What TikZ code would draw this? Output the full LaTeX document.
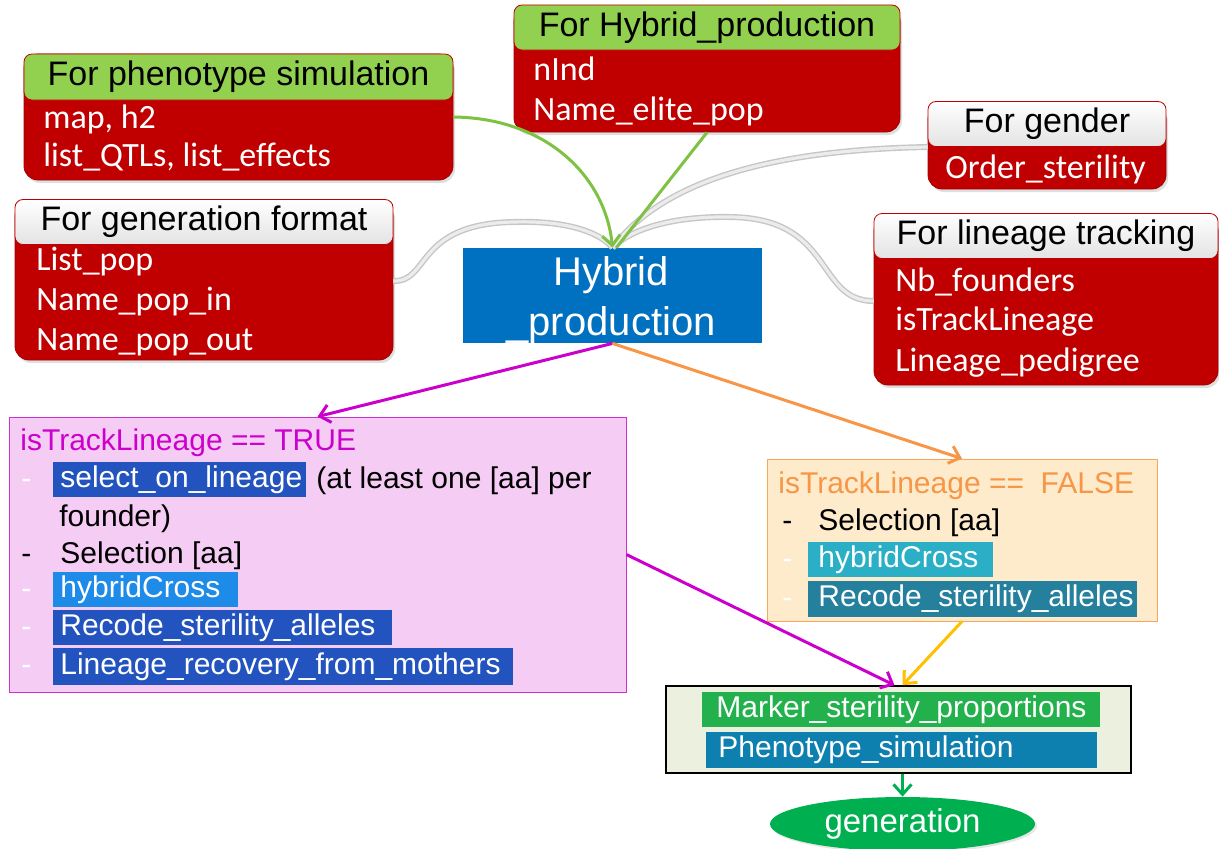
\documentclass[tikz,border=0pt]{standalone}
\usepackage{fontspec}
\setmainfont{Liberation Sans}
\newfontfamily\calfont{Carlito}
\usetikzlibrary{arrows.meta,shadows,shapes.geometric}

\definecolor{boxred}{HTML}{C00000}
\definecolor{darkred}{HTML}{A00000}
\definecolor{headgreen}{HTML}{92D050}
\definecolor{hybblue}{HTML}{0070C0}
\definecolor{pinkfill}{HTML}{F4CCF4}
\definecolor{pinkline}{HTML}{CC33CC}
\definecolor{magline}{HTML}{CC00CC}
\definecolor{orfill}{HTML}{FDEBCC}
\definecolor{orline}{HTML}{F9A55A}
\definecolor{ortext}{HTML}{F79646}
\definecolor{yelline}{HTML}{FFC000}
\definecolor{hlblue}{HTML}{2353BE}
\definecolor{hllight}{HTML}{1E8BE8}
\definecolor{hlcyan}{HTML}{2AAFC6}
\definecolor{hlteal}{HTML}{24809C}
\definecolor{hlgreen}{HTML}{22B14C}
\definecolor{hlpheno}{HTML}{0E80B0}
\definecolor{gfill}{HTML}{EBF1DE}
\definecolor{genfill}{HTML}{00B050}
\definecolor{topgreen}{HTML}{7DC242}

\newcommand\fhead{\fontsize{17}{20}\selectfont}
\newcommand\fitem{\calfont\fontsize{17}{20}\selectfont}
\newcommand\fbody{\fontsize{15}{18}\selectfont}

\tikzset{
  redbox/.style={draw=darkred, fill=boxred, rounded corners=7pt,
    drop shadow={opacity=0.25, shadow xshift=1pt, shadow yshift=-1.5pt}},
  greenhead/.style={draw=boxred, fill=headgreen, rounded corners=4pt, font=\fhead},
  grayhead/.style={draw=boxred, top color=white, bottom color=gray!22, rounded corners=4pt, font=\fhead},
  itemtxt/.style={anchor=west, text=white, inner sep=0pt, font=\fitem, text height=11.5pt, text depth=3.5pt},
  bodytxt/.style={anchor=west, inner sep=0pt, font=\fbody, text height=11pt, text depth=3pt},
  dashtxt/.style={bodytxt, text=white},
  hlbox/.style={anchor=west, text=white, inner xsep=3.5pt, inner ysep=0pt,
    minimum height=17.5pt, align=left, font=\fbody},
  graylink/.style={draw=gray!45, double=gray!15, double distance=1.6pt, line width=0.7pt},
  arrowline/.style={line width=1.5pt, ->},
  >={Straight Barb[length=5pt,width=9pt]}
}

\begin{document}
\begin{tikzpicture}[x=0.5pt,y=-0.5pt]

\useasboundingbox (0,0) rectangle (1219,848);

% parameter boxes
\node[redbox, minimum width=214.5pt, minimum height=63pt] (b1) at (238.5,117) {};
\node[greenhead, minimum width=214.5pt, minimum height=23pt] (h1) at (238.5,77) {For phenotype simulation};
\node[itemtxt] (map) at (43,120) {map, h2};
\node[itemtxt] (qtl) at (43,158) {list\_QTLs, list\_effects};

\node[redbox, minimum width=189pt, minimum height=79pt] (b2) at (204,281) {};
\node[grayhead, minimum width=189pt, minimum height=20pt] (h2) at (204,222) {For generation format};
\node[itemtxt] (lpop) at (36,262) {List\_pop};
\node[itemtxt] (pin) at (36,302) {Name\_pop\_in};
\node[itemtxt] (pout) at (36,342) {Name\_pop\_out};

\node[redbox, minimum width=193pt, minimum height=62.5pt] (b3) at (707,69.5) {};
\node[greenhead, minimum width=193pt, minimum height=20.5pt] (h3) at (707,27.5) {For Hybrid\_production};
\node[itemtxt] (nind) at (533,72) {nInd};
\node[itemtxt] (elite) at (533,112) {Name\_elite\_pop};

\node[redbox, minimum width=119pt, minimum height=42pt] (b4) at (1047,147) {};
\node[grayhead, minimum width=119pt, minimum height=19pt] (h4) at (1047,124) {For gender};
\node[itemtxt] (order) at (945,170) {Order\_sterility};

\node[redbox, minimum width=172pt, minimum height=84pt] (b5) at (1046,301) {};
\node[grayhead, minimum width=172pt, minimum height=19pt] (h5) at (1046,236) {For lineage tracking};
\node[itemtxt] (nbf) at (895,283) {Nb\_founders};
\node[itemtxt] (istrack) at (895,322) {isTrackLineage};
\node[itemtxt] (pedig) at (895,363) {Lineage\_pedigree};

% central function
\node[fill=hybblue, minimum width=149.5pt, minimum height=47.5pt] (hyb) at (612.5,295.5) {};
\node[inner sep=0pt, text=white, font=\fontsize{20}{25}\selectfont, align=center] (hybtxt) at (611,300) {Hybrid\\\_production};

% TRUE branch
\node[draw=pinkline, fill=pinkfill, minimum width=308.5pt, minimum height=137.5pt] (tbox) at (317.5,554.5) {};
\node[bodytxt, text=magline] (ttitle) at (20,442) {isTrackLineage == TRUE};
\node[dashtxt] (td1) at (21,480) {-};
\node[hlbox, fill=hlblue, text width=119.5pt] (tlin1) at (53,479.5) {select\_on\_lineage};
\node[bodytxt] (atleast) at (316,480) {(at least one [aa] per};
\node[bodytxt] (founder) at (59,518) {founder)};
\node[bodytxt] (td2) at (21,555) {-};
\node[bodytxt] (tsel) at (60,555) {Selection [aa]};
\node[dashtxt] (td3) at (21,590) {-};
\node[hlbox, fill=hllight, text width=85.5pt] (tcross) at (53,589.5) {hybridCross};
\node[dashtxt] (td4) at (21,628) {-};
\node[hlbox, fill=hlblue, text width=162.5pt] (trec) at (53,627.5) {Recode\_sterility\_alleles};
\node[dashtxt] (td5) at (21,666) {-};
\node[hlbox, fill=hlblue, text width=223pt, minimum height=18.5pt] (tlin2) at (53,666.5) {Lineage\_recovery\_from\_mothers};

% FALSE branch
\node[draw=orline, fill=orfill, minimum width=195pt, minimum height=81pt] (fbox) at (962,540) {};
\node[bodytxt, text=ortext] (ftitle) at (778,485) {isTrackLineage == \ FALSE};
\node[bodytxt] (fd1) at (782,522) {-};
\node[bodytxt] (fsel) at (818,522) {Selection [aa]};
\node[dashtxt] (fd2) at (782,560) {-};
\node[hlbox, fill=hlcyan, inner xsep=5pt, text width=82.5pt] (fcross) at (808,559.5) {hybridCross};
\node[dashtxt] (fd3) at (782,599) {-};
\node[hlbox, fill=hlteal, inner xsep=5pt, text width=154.5pt, minimum height=18pt] (frec) at (808,599) {Recode\_sterility\_alleles};

% common end
\node[draw=black, line width=0.8pt, fill=gfill, minimum width=232.5pt, minimum height=43.5pt] (gbox) at (898.5,729.5) {};
\node[hlbox, fill=hlgreen, inner xsep=7pt, text width=185pt] (marker) at (702,709.5) {Marker\_sterility\_proportions};
\node[hlbox, fill=hlpheno, inner xsep=6pt, text width=183.5pt, minimum height=18pt] (pheno) at (706,750) {Phenotype\_simulation};
\node[ellipse, fill=genfill, minimum width=132.5pt, minimum height=27pt, inner sep=0pt, text=white,
  font=\fontsize{16.5}{20}\selectfont, drop shadow={opacity=0.2, shadow xshift=1pt, shadow yshift=-1pt}] (gen) at (902.5,824) {generation};

% links into the function
\draw[graylink] (b2.east) .. controls (430,282) and (415,224) .. (513,222) .. controls (575,220) and (603,236) .. (hyb.north);
\draw[graylink] (b5.west) .. controls (815,301) and (835,218) .. (730,217) .. controls (670,216) and (630,230) .. (hyb.north);
\draw[graylink] (b4.west) .. controls (760,150) and (660,185) .. (hyb.north);
\draw[topgreen, line width=1.5pt] (b3.south) -- ([xshift=2pt]hyb.north);
\draw[topgreen, arrowline] (b1.east) .. controls (545,118) and (605,175) .. (hyb.north);

% branches
\draw[magline, arrowline] (hyb.south) -- (tbox.north);
\draw[ortext, arrowline] (hyb.south) -- (fbox.north);
\draw[magline, arrowline] (tbox.east) -- ([xshift=-2pt]gbox.north);
\draw[yelline, arrowline] (fbox.south) -- ([xshift=2pt]gbox.north);
\draw[genfill, arrowline] (gen.north |- gbox.south) -- (gen.north);

\end{tikzpicture}
\end{document}
